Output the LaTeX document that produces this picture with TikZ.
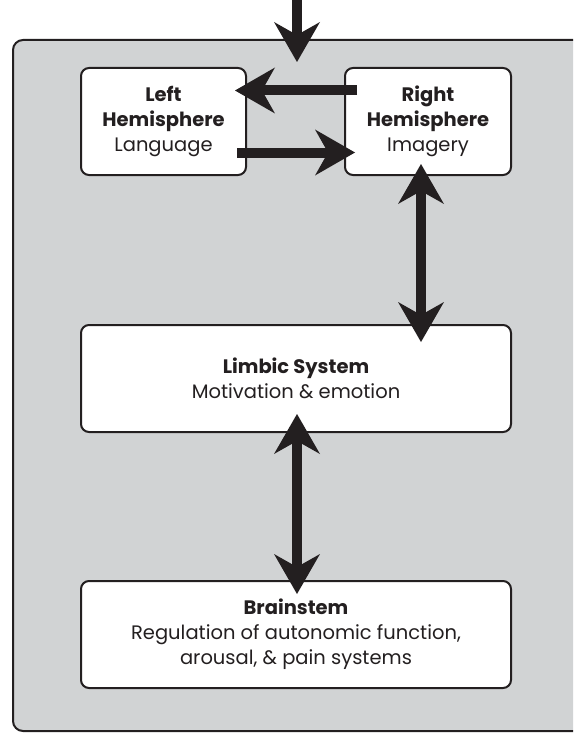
\documentclass[tikz,border=0pt]{standalone}
\usepackage{fontspec}
\setmainfont{Poppins}
\usepackage{tikz}
\usepackage{xcolor}
\usetikzlibrary{arrows.meta,positioning,calc}
\definecolor{panelgrey}{RGB}{209,211,212}
\definecolor{inkblack}{RGB}{35,31,32}

\begin{document}
\begin{tikzpicture}[x=1pt,y=-1pt,
    region/.style={draw=inkblack, line width=2pt, fill=white, rounded corners=8pt,
        minimum height=107pt, align=center, text=inkblack, font=\fontsize{19.5}{25}\selectfont},
    bigarrow/.style={line width=10pt, draw=inkblack,
        -{Stealth[length=40pt,width=46pt,inset=13pt,line width=0pt]}},
    dblarrow/.style={bigarrow,
        {Stealth[length=40pt,width=46pt,inset=13pt,line width=0pt]}-{Stealth[length=40pt,width=46pt,inset=13pt,line width=0pt]}}]
    \useasboundingbox (0,0) rectangle (573,733);
    \clip (0,0) rectangle (573,733);
    \draw[draw=inkblack, line width=2pt, fill=panelgrey, rounded corners=10pt] (13,40) rectangle (620,731);

    \node[region, minimum width=165pt] (lh) at (163.5,121.5) {\textbf{Left}\\\textbf{Hemisphere}\\Language};
    \node[region, minimum width=166pt] (rh) at (428,121.5) {\textbf{Right}\\\textbf{Hemisphere}\\Imagery};
    \node[region, minimum width=430pt] (limbic) at (296,378.5) {\textbf{Limbic System}\\Motivation \& emotion};
    \node[region, minimum width=430pt] (bs) at (296,634.5) {\textbf{Brainstem}\\Regulation of autonomic function,\\arousal, \& pain systems};

    \coordinate (input) at (297,0);
    \coordinate (inputtip) at (297,62);
    \draw[bigarrow] (input) -- (inputtip);
    \draw[bigarrow] ($(rh.west)+(13,-31)$) -- ($(lh.east)+(-12,-31)$);
    \draw[bigarrow] ($(lh.east)+(-10,31)$) -- ($(rh.west)+(11,31)$);
    \draw[dblarrow] ($(rh.south)+(-7,-12)$) -- ($(rh.south |- limbic.north)+(-7,18)$);
    \draw[dblarrow] ($(limbic.south)+(1,-19)$) -- ($(bs.north)+(1,14)$);
\end{tikzpicture}
\end{document}
